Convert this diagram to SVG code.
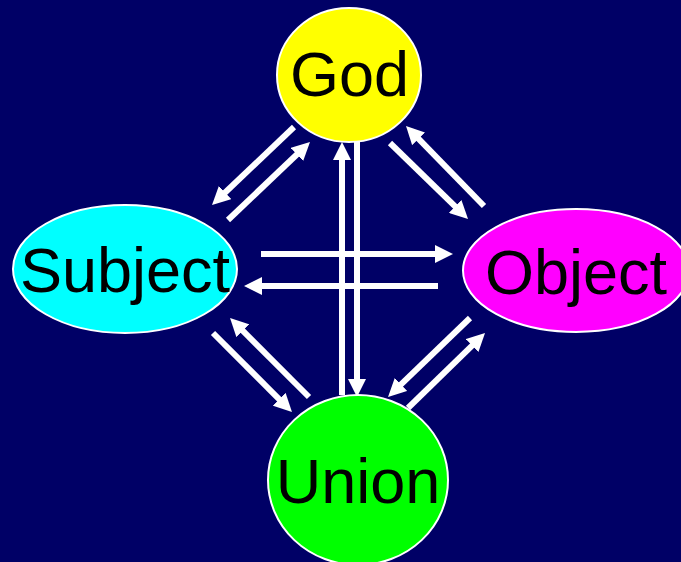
<svg xmlns="http://www.w3.org/2000/svg" width="681" height="562" viewBox="0 0 681 562">
<defs>
<style>
.node{stroke:#ffffff;stroke-width:2}
.lbl{font-family:"Liberation Sans",Arial,sans-serif;font-size:63px;fill:#000000;text-anchor:middle}
.arr{stroke:#ffffff;stroke-width:6;fill:none;marker-end:url(#ah)}
</style>
<marker id="ah" markerUnits="userSpaceOnUse" viewBox="0 0 18 18" markerWidth="18" markerHeight="18" refX="10" refY="9" orient="auto">
<path d="M0,0 L18,9 L0,18 z" fill="#ffffff"/>
</marker>
</defs>
<rect x="0" y="0" width="681" height="562" fill="#000066"/>
<g id="connectors">
<line class="arr" x1="294" y1="127" x2="217.8" y2="199.5"/>
<line class="arr" x1="228" y1="220" x2="304.2" y2="147.5"/>
<line class="arr" x1="390" y1="143" x2="462.3" y2="213.4"/>
<line class="arr" x1="484" y1="206" x2="411.6" y2="131.7"/>
<line class="arr" x1="213" y1="333" x2="286.3" y2="406.3"/>
<line class="arr" x1="309" y1="397" x2="235.7" y2="323.7"/>
<line class="arr" x1="470" y1="318" x2="393.8" y2="391.4"/>
<line class="arr" x1="408" y1="408" x2="479.3" y2="338.6"/>
<line class="arr" x1="261" y1="254" x2="445" y2="254"/>
<line class="arr" x1="438" y1="286" x2="252" y2="286"/>
<line class="arr" x1="342" y1="395" x2="342" y2="150"/>
<line class="arr" x1="357" y1="142" x2="357" y2="389"/>
</g>
<g id="god">
<ellipse class="node" cx="349" cy="75" rx="72" ry="67" fill="#ffff00"/>
<text class="lbl" x="349.5" y="96">God</text>
</g>
<g id="subject">
<ellipse class="node" cx="125" cy="269" rx="112" ry="64" fill="#00ffff"/>
<text class="lbl" x="125" y="292">Subject</text>
</g>
<g id="object">
<ellipse class="node" cx="576" cy="270.5" rx="113" ry="61.5" fill="#ff00ff"/>
<text class="lbl" x="576" y="294">Object</text>
</g>
<g id="union">
<ellipse class="node" cx="358" cy="480" rx="90" ry="85" fill="#00ff00"/>
<text class="lbl" x="358" y="503">Union</text>
</g>
</svg>
